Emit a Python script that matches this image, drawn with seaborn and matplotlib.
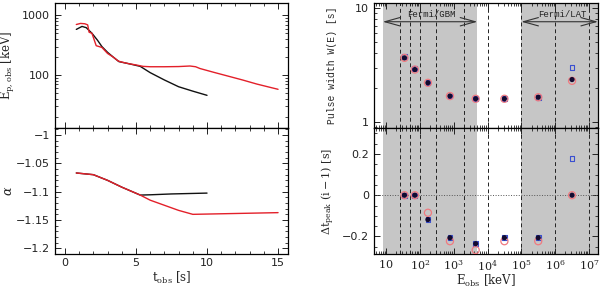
import numpy as np
import pandas as pd
import matplotlib
matplotlib.use("Agg")
import matplotlib.pyplot as plt
import matplotlib.ticker as mt
import seaborn as sns

# ---------------- data ----------------
# left: peak energy vs time
t_red_ep = [0.8, 1.1, 1.4, 1.6, 1.7, 1.9, 2.2, 2.6, 3.0, 3.4, 3.75, 4.0, 4.5, 5.0, 5.5,
            6.0, 7.0, 8.0, 8.8, 9.2, 9.5, 10.5, 11.5, 12.5, 13.5, 14.5, 15.0]
ep_red = [700, 730, 720, 690, 520, 500, 310, 290, 230, 200, 172, 165, 155, 148, 140,
          138, 138, 139, 142, 138, 129, 111, 96, 83, 71, 62, 58]
t_blk_ep = [0.8, 1.2, 1.5, 1.9, 2.3, 2.6, 3.0, 3.4, 3.8, 4.5, 5.3, 6.0, 7.0, 8.0, 9.0, 10.0]
ep_blk = [580, 650, 620, 500, 380, 300, 240, 200, 168, 155, 140, 110, 83, 64, 54, 46]

# left: alpha vs time
t_red_al = [0.8, 2.0, 3.0, 4.0, 5.3, 6.0, 7.0, 8.0, 9.0, 10.0, 12.0, 15.0]
al_red = [-1.067, -1.070, -1.080, -1.092, -1.106, -1.115, -1.124, -1.133, -1.140,
          -1.1395, -1.1385, -1.137]
t_blk_al = [0.8, 2.0, 3.0, 4.0, 5.3, 6.0, 7.5, 10.0]
al_blk = [-1.067, -1.070, -1.080, -1.092, -1.106, -1.1055, -1.104, -1.1025]

# right: energy bands
band_edges = [25, 50, 100, 300, 2000, 1e4, 1e5, 1e6, 1e7]
e_mid = [35, 71, 173, 775, 4470, 3.16e4, 3.16e5, 3.16e6]
w_filled = [3.66, 2.89, 2.21, 1.69, 1.60, 1.60, 1.65, 2.36]
w_red = [3.66, 2.89, 2.21, 1.69, 1.60, 1.60, 1.65, 2.30]
w_blue = [3.78, 2.95, 2.21, 1.69, 1.60, 1.60, 1.65, 3.03]
dt_filled = [0.0, 0.0, -0.118, -0.206, -0.235, -0.206, -0.206, 0.0]
dt_red = [0.0, 0.0, -0.085, -0.223, -0.266, -0.223, -0.223, 0.0]
dt_blue = [0.0, 0.0, -0.118, -0.206, -0.235, -0.206, -0.206, 0.178]

gbm_range = [8, 5000]
lat_range = [1e5, 1.85e7]

# ---------------- style ----------------
sns.set_theme(style="ticks")
plt.rcParams['font.family'] = ['DejaVu Sans']
plt.rcParams['mathtext.fontset'] = 'dejavuserif'
plt.rcParams.update({
    'xtick.direction': 'in', 'ytick.direction': 'in',
    'xtick.top': True, 'ytick.right': True,
    'xtick.major.size': 4, 'ytick.major.size': 4,
    'xtick.minor.size': 2, 'ytick.minor.size': 2,
    'xtick.major.width': 0.7, 'ytick.major.width': 0.7,
    'xtick.minor.width': 0.6, 'ytick.minor.width': 0.6,
    'axes.linewidth': 0.9, 'axes.edgecolor': 'black',
    'xtick.color': '#222222', 'ytick.color': '#222222',
    'xtick.labelsize': 8, 'ytick.labelsize': 8,
})

fig = plt.figure(figsize=(6.0, 2.91), dpi=100)
W, H = 600.0, 291.0
def box(x0, x1, y0, y1):
    return [x0 / W, 1 - y1 / H, (x1 - x0) / W, (y1 - y0) / H]

ax1 = fig.add_axes(box(55, 288, 3, 128))
ax2 = fig.add_axes(box(55, 288, 128, 254))
ax3 = fig.add_axes(box(374, 598, 3, 128))
ax4 = fig.add_axes(box(374, 598, 128, 254))

RED = '#e3202a'
BLK = '#111111'

# ---- left top ----
df_ep = pd.concat([
    pd.DataFrame({'t': t_blk_ep, 'E': ep_blk, 's': 'blk'}),
    pd.DataFrame({'t': t_red_ep, 'E': ep_red, 's': 'red'}),
])
sns.lineplot(data=df_ep, x='t', y='E', hue='s', palette={'blk': BLK, 'red': RED},
             ax=ax1, legend=False, lw=1.0, sort=False, estimator=None)
ax1.set_yscale('log')
ax1.set_xlim(-0.7, 15.7)
ax1.set_ylim(13.1, 1600)
ax1.yaxis.set_major_formatter(mt.FuncFormatter(lambda v, p: '%g' % v))
ax1.yaxis.set_minor_formatter(mt.NullFormatter())
ax1.xaxis.set_major_locator(mt.MultipleLocator(5))
ax1.xaxis.set_minor_locator(mt.MultipleLocator(1))
ax1.set_xticklabels([])
ax1.set_xlabel('')
ax1.set_ylabel(r'$\mathrm{E_{p,obs}}\ \mathrm{[keV]}$', fontsize=8.5)
ax1.yaxis.set_label_coords(-0.165, 0.5)

# ---- left bottom ----
df_al = pd.concat([
    pd.DataFrame({'t': t_blk_al, 'a': al_blk, 's': 'blk'}),
    pd.DataFrame({'t': t_red_al, 'a': al_red, 's': 'red'}),
])
sns.lineplot(data=df_al, x='t', y='a', hue='s', palette={'blk': BLK, 'red': RED},
             ax=ax2, legend=False, lw=1.0, sort=False, estimator=None)
ax2.set_xlim(-0.7, 15.7)
ax2.set_ylim(-1.21, -0.9876)
ax2.yaxis.set_major_locator(mt.MultipleLocator(0.05))
ax2.yaxis.set_minor_locator(mt.MultipleLocator(0.01))
ax2.yaxis.set_major_formatter(mt.FuncFormatter(lambda v, p: ('%g' % round(v, 3)).replace('-', '\u2212')))
ax2.xaxis.set_major_locator(mt.MultipleLocator(5))
ax2.xaxis.set_minor_locator(mt.MultipleLocator(1))
ax2.set_xlabel(r'$\mathrm{t_{obs}}\ \mathrm{[s]}$', fontsize=8.5, labelpad=1)
ax2.set_ylabel(r'$\alpha$', fontsize=9)
ax2.yaxis.set_label_coords(-0.17, 0.5)

# ---- right panels ----
mono = ['Liberation Mono', 'DejaVu Sans Mono']
for ax in (ax3, ax4):
    ax.set_xscale('log')
    ax.set_xlim(4.4, 1.85e7)
    ax.axvspan(gbm_range[0], gbm_range[1], color='#c6c6c6', lw=0, zorder=0)
    ax.axvspan(lat_range[0], lat_range[1], color='#c6c6c6', lw=0, zorder=0)
    for e in band_edges:
        ax.axvline(e, color='#222222', ls=(0, (4, 3)), lw=0.7, zorder=1)
    ax.xaxis.set_major_locator(mt.LogLocator(base=10, numticks=12))
    ax.xaxis.set_minor_locator(mt.LogLocator(base=10, subs=np.arange(2, 10), numticks=12))

df_w = pd.DataFrame({'E': e_mid, 'wf': w_filled, 'wr': w_red, 'wb': w_blue,
                     'df': dt_filled, 'dr': dt_red, 'db': dt_blue})

# top right
sns.scatterplot(data=df_w, x='E', y='wb', ax=ax3, marker='s', s=12, facecolor='none',
                edgecolor='#3a4fd0', linewidth=0.8, zorder=3)
sns.scatterplot(data=df_w, x='E', y='wr', ax=ax3, marker='o', s=26, facecolor='none',
                edgecolor='#f07a80', linewidth=0.9, zorder=4)
sns.scatterplot(data=df_w, x='E', y='wf', ax=ax3, marker='o', s=14, color='#120a30',
                edgecolor='none', zorder=5)
ax3.set_yscale('log')
ax3.set_ylim(0.886, 11.1)
ax3.yaxis.set_major_formatter(mt.FuncFormatter(lambda v, p: '%g' % v))
ax3.yaxis.set_minor_formatter(mt.NullFormatter())
ax3.set_xticklabels([])
ax3.xaxis.set_minor_formatter(mt.NullFormatter())
ax3.set_xlabel('')
ax3.set_ylabel('Pulse width W(E) [s]', fontsize=7, family=mono)
ax3.yaxis.set_label_coords(-0.165, 0.5)

arrow_kw = dict(arrowstyle='<->,head_length=0.9,head_width=0.25', color='#333333', lw=0.8,
                shrinkA=0, shrinkB=0)
ax3.annotate('', xy=(gbm_range[0], 7.6), xytext=(gbm_range[1], 7.6), arrowprops=arrow_kw, zorder=6)
ax3.annotate('', xy=(lat_range[0], 7.6), xytext=(lat_range[1], 7.6), arrowprops=arrow_kw, zorder=6,
             annotation_clip=False)
ax3.text(np.sqrt(gbm_range[0] * gbm_range[1]) * 1.1, 8.1, 'Fermi/GBM', fontsize=6.5, family=mono,
         ha='center', va='bottom', color='#222222')
ax3.text(np.sqrt(lat_range[0] * lat_range[1]) * 1.2, 8.1, 'Fermi/LAT', fontsize=6.5, family=mono,
         ha='center', va='bottom', color='#222222')

# bottom right
ax4.axhline(0, color='#555555', ls=':', lw=0.7, zorder=1)
sns.scatterplot(data=df_w, x='E', y='db', ax=ax4, marker='s', s=12, facecolor='none',
                edgecolor='#3a4fd0', linewidth=0.8, zorder=3)
sns.scatterplot(data=df_w, x='E', y='dr', ax=ax4, marker='o', s=26, facecolor='none',
                edgecolor='#f07a80', linewidth=0.9, zorder=4)
sns.scatterplot(data=df_w, x='E', y='df', ax=ax4, marker='o', s=14, color='#120a30',
                edgecolor='none', zorder=5)
ax4.set_ylim(-0.285, 0.326)
ax4.yaxis.set_major_locator(mt.MultipleLocator(0.2))
ax4.yaxis.set_minor_locator(mt.MultipleLocator(0.05))
ax4.yaxis.set_major_formatter(mt.FuncFormatter(lambda v, p: ('%g' % round(v, 3)).replace('-', '\u2212')))

def efmt(v, p):
    k = int(round(np.log10(v)))
    return '$10$' if k == 1 else '$10^{%d}$' % k
ax4.xaxis.set_major_formatter(mt.FuncFormatter(efmt))
ax4.xaxis.set_minor_formatter(mt.NullFormatter())
ax4.set_xlabel(r'$\mathrm{E_{obs}}\ \mathrm{[keV]}$', fontsize=8.5, labelpad=0)
ax4.set_ylabel(r'$\Delta\mathrm{t_{peak}}\ \mathrm{(i-1)\ [s]}$', fontsize=8)
ax4.yaxis.set_label_coords(-0.165, 0.5)

for ax in (ax1, ax2, ax3, ax4):
    ax.tick_params(which='both', direction='in', top=True, right=True)
    ax.tick_params(axis='x', which='major', pad=3)

fig.savefig('out.png', dpi=100)
